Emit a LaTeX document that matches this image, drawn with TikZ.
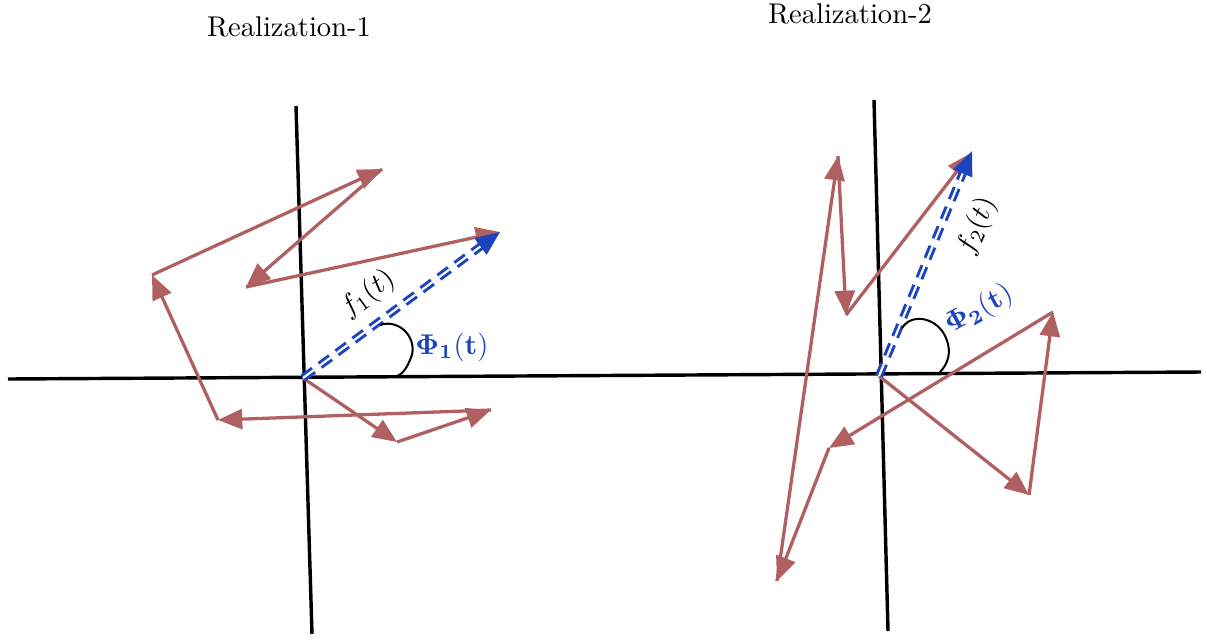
\documentclass[tikz,border=0pt]{standalone}
\usetikzlibrary{arrows.meta,calc}
\definecolor{walk}{RGB}{176,96,96}
\definecolor{phiblue}{RGB}{28,68,190}
\tikzset{
  axis/.style={line width=1.2pt, black},
  walkarrow/.style={line width=1.15pt, walk, -{Triangle[length=8.5pt,width=7pt]}},
  dblue/.style={phiblue, line width=1.05pt, double=white, double distance=0.75pt, dash pattern=on 4.6pt off 2.8pt},
  bluetip/.style={phiblue, line width=1pt, -{Triangle[length=8.5pt,width=7pt]}},
  anglearc/.style={line width=0.7pt, black},
  title/.style={font=\normalsize},
  lbl/.style={inner sep=0.5pt}
}
\begin{document}
\begin{tikzpicture}[x=0.35pt,y=-0.35pt]
\useasboundingbox (0,0) rectangle (1207,639);
% axes
\coordinate (hl) at (8,379);
\coordinate (hr) at (1201,372);
\coordinate (v1t) at (296,106);
\coordinate (v1b) at (312,634);
\coordinate (v2t) at (874,100);
\coordinate (v2b) at (888,631);
\draw[axis] (hl) -- (hr);
\draw[axis] (v1t) -- (v1b);
\draw[axis] (v2t) -- (v2b);
% titles
\node[title] (t1) at (289,27) {Realization-1};
\node[title] (t2) at (850,14) {Realization-2};
% left walk
\coordinate (o1) at (303,378);
\coordinate (a1) at (397,442);
\coordinate (a2) at (491,410);
\coordinate (a3) at (218,420);
\coordinate (a4) at (152,275);
\coordinate (a5) at (382,169);
\coordinate (a6) at (246,287);
\coordinate (a7) at (500,232);
\draw[walkarrow] (o1) -- (a1);
\draw[walkarrow] (a1) -- (a2);
\draw[walkarrow] (a2) -- (a3);
\draw[walkarrow] (a3) -- (a4);
\draw[walkarrow] (a4) -- (a5);
\draw[walkarrow] (a5) -- (a6);
\draw[walkarrow] (a6) -- (a7);
% left resultant
\coordinate (r1) at (500,232);
\draw[dblue] (o1) -- ($(r1)!8pt!(o1)$);
\draw[bluetip] ($(r1)!7pt!(o1)$) -- (r1);
\draw[anglearc] (380,325) .. controls (400,318) and (420,340) .. (410,360) .. controls (405,372) and (400,376) .. (393,377);
\node[lbl] (f1) at (368,294) [rotate=36] {$f_1(t)$};
\node[lbl,text=phiblue] (p1) at (452,347) {$\mathbf{\Phi_1(t)}$};
% right walk
\coordinate (o2) at (879,376);
\coordinate (b1) at (1029,495);
\coordinate (b2) at (1053,312);
\coordinate (b3) at (829,448);
\coordinate (b4) at (777,581);
\coordinate (b5) at (838,156);
\coordinate (b6) at (846,315);
\coordinate (b7) at (971,153);
\draw[walkarrow] (o2) -- (b1);
\draw[walkarrow] (b1) -- (b2);
\draw[walkarrow] (b2) -- (b3);
\draw[walkarrow] (b3) -- (b4);
\draw[walkarrow] (b4) -- (b5);
\draw[walkarrow] (b5) -- (b6);
\draw[walkarrow] (b6) -- (b7);
% right resultant
\coordinate (r2) at (972,151);
\draw[dblue] (o2) -- ($(r2)!8pt!(o2)$);
\draw[bluetip] ($(r2)!7pt!(o2)$) -- (r2);
\draw[anglearc] (902,328) .. controls (912,312) and (938,318) .. (946,338) .. controls (952,352) and (948,364) .. (940,372);
\node[lbl] (f2) at (977,226) [rotate=67] {$f_2(t)$};
\node[lbl,text=phiblue] (p2) at (979,310) [rotate=29] {$\mathbf{\Phi_2(t)}$};
\end{tikzpicture}
\end{document}
